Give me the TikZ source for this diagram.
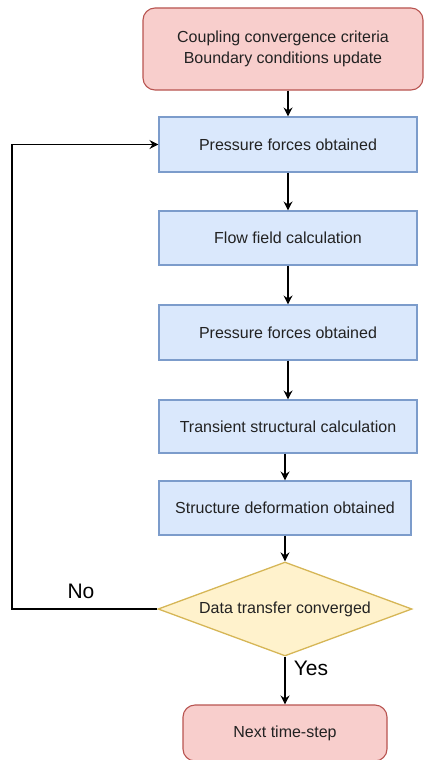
\documentclass[tikz,border=0pt]{standalone}
\usepackage{fontspec}
\setmainfont{Liberation Sans}
\usetikzlibrary{shapes.geometric,arrows.meta}
\definecolor{redfill}{HTML}{F8CECC}
\definecolor{redline}{HTML}{B85450}
\definecolor{bluefill}{HTML}{DAE8FC}
\definecolor{blueline}{HTML}{7C9CCB}
\definecolor{yelfill}{HTML}{FFF2CC}
\definecolor{yelline}{HTML}{D6B656}
\definecolor{txt}{HTML}{222222}
\begin{document}
\begin{tikzpicture}[x=1pt,y=-1pt,
  base/.style={inner sep=0pt, line width=1.1pt, text=txt, font=\fontsize{16pt}{21pt}\selectfont, align=center},
  term/.style={base, draw=redline, fill=redfill, rounded corners=12pt},
  proc/.style={base, draw=blueline, fill=bluefill, minimum width=258pt},
  decis/.style={base, diamond, draw=yelline, fill=yelfill, aspect=2.7, minimum width=254pt, minimum height=94pt, line width=1.3pt},
  arr/.style={line width=1.1pt, -{Stealth[length=9pt,width=9pt,inset=3pt]}},
  lbl/.style={text=black, font=\fontsize{21pt}{24pt}\selectfont}
]
\useasboundingbox (0,0) rectangle (423,760);
\node[term, minimum width=280pt, minimum height=82pt] (top) at (283,49) {Coupling convergence criteria\\Boundary conditions update};
\node[proc, minimum height=55pt] (b1) at (288,144.5) {Pressure forces obtained};
\node[proc, minimum height=54pt] (b2) at (288,238) {Flow field calculation};
\node[proc, minimum height=55pt] (b3) at (288,332.5) {Pressure forces obtained};
\node[proc, minimum height=53pt] (b4) at (288,426.5) {Transient structural calculation};
\node[proc, minimum width=252pt, minimum height=54pt] (b5) at (285,508) {Structure deformation obtained};
\node[decis] (dia) at (285,609) {Data transfer converged};
\node[term, minimum width=204pt, minimum height=56pt] (next) at (285,733) {Next time-step};
\coordinate (loopc) at (12,609);
\node[lbl] (no) at (81,591) {No};
\node[lbl] (yes) at (311,668) {Yes};
\draw[arr] (top.south -| b1.north) -- (b1.north);
\draw[arr] (b1.south) -- (b2.north);
\draw[arr] (b2.south) -- (b3.north);
\draw[arr] (b3.south) -- (b4.north);
\draw[arr] (b4.south -| b5.north) -- (b5.north);
\draw[arr] (b5.south) -- (dia.north);
\draw[arr] (dia.south) -- (next.north);
\draw[arr] (dia.west) -- (loopc) |- (b1.west);
\end{tikzpicture}
\end{document}
